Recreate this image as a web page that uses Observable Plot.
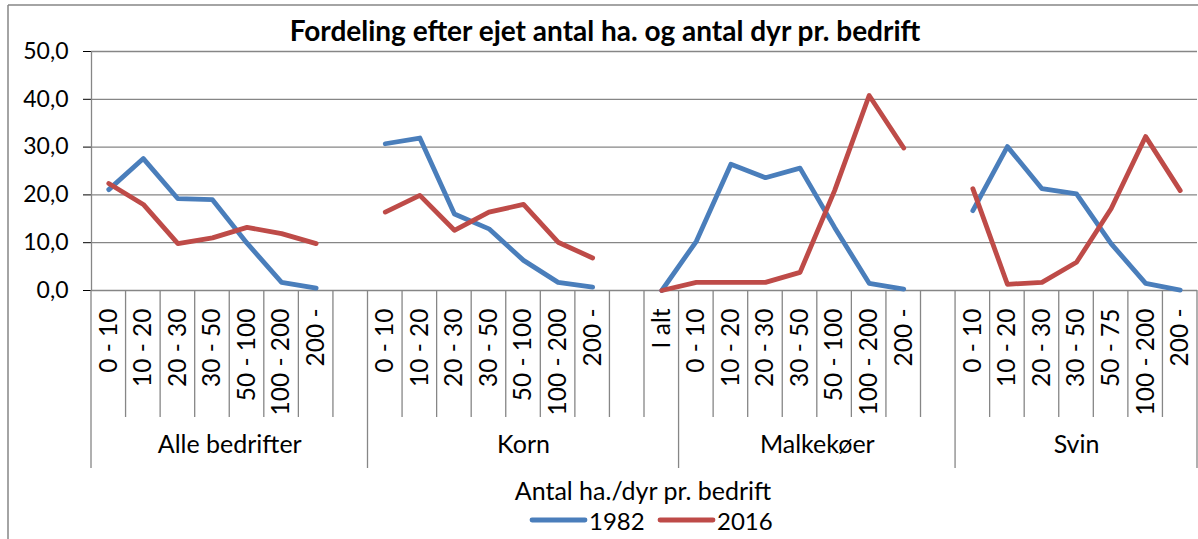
<!DOCTYPE html>
<html><head><meta charset="utf-8">
<script src="https://cdn.jsdelivr.net/npm/d3@7"></script>
<script src="https://cdn.jsdelivr.net/npm/@observablehq/plot@0.6"></script>
<style>html,body{margin:0;padding:0;background:#fff}svg{display:block}</style>
</head><body><div id="chart"></div>
<script>
// ---- data ----
const groups = ["Alle bedrifter", "Korn", "Malkekøer", "Svin"];
const catsAlle = ["0 - 10","10 - 20","20 - 30","30 - 50","50 - 100","100 - 200","200 -",""];
const catsKorn = ["0 - 10","10 - 20","20 - 30","30 - 50","50 - 100","100 - 200","200 -","","I alt"];
const catsMalk = ["0 - 10","10 - 20","20 - 30","30 - 50","50 - 100","100 - 200","200 -",""];
const catsSvin = ["0 - 10","10 - 20","20 - 30","30 - 50","50 - 75","100 - 200","200 -"];
const v1982Alle = [21.1, 27.6, 19.2, 19.0, 9.9, 1.7, 0.5, null];
const v1982Korn = [30.7, 31.9, 16.0, 12.9, 6.3, 1.7, 0.7, null, 0];
const v1982Malk = [10.3, 26.4, 23.6, 25.6, 13.2, 1.5, 0.3, null];
const v1982Svin = [16.7, 30.1, 21.3, 20.2, 9.8, 1.5, 0.1];
const v2016Alle = [22.4, 18.0, 9.8, 11.0, 13.2, 11.9, 9.8, null];
const v2016Korn = [16.4, 19.9, 12.6, 16.4, 18.0, 10.1, 6.8, null, 0];
const v2016Malk = [1.7, 1.7, 1.7, 3.8, 20.9, 40.8, 29.8, null];
const v2016Svin = [21.3, 1.3, 1.7, 5.9, 17.1, 32.2, 20.9];
const yTicks = [0, 10, 20, 30, 40, 50];
const seriesNames = ["1982", "2016"];
const title = "Fordeling efter ejet antal ha. og antal dyr pr. bedrift";
const xTitle = "Antal ha./dyr pr. bedrift";

// ---- build table ----
const catsByGroup = [catsAlle, catsKorn, catsMalk, catsSvin];
const a1982 = [v1982Alle, v1982Korn, v1982Malk, v1982Svin];
const a2016 = [v2016Alle, v2016Korn, v2016Malk, v2016Svin];
const rows = [];
const groupRows = [];
let idx = 0;
catsByGroup.forEach((cats, g) => {
  const start = idx;
  cats.forEach((c, j) => {
    rows.push({i: idx, pos: idx + 0.5, label: c, group: groups[g], v1982: a1982[g][j], v2016: a2016[g][j]});
    idx++;
  });
  groupRows.push({name: groups[g], start, end: idx, mid: (start + idx) / 2});
});
const nSlots = idx;
const groupBounds = [0, ...groupRows.map(d => d.end)];
const slotBounds = d3.range(1, nSlots).filter(b => !groupBounds.includes(b));

const FONT = "Lato, 'Open Sans', sans-serif";
const blue = "#4A7EBB", red = "#BE4B48", grid = "#868686";

const plot = Plot.plot({
  width: 1198, height: 539,
  marginLeft: 91, marginRight: 1, marginTop: 51, marginBottom: 249,
  style: {fontFamily: FONT, fontSize: "23px", color: "#000", background: "#fff", overflow: "visible"},
  x: {type: "linear", domain: [0, nSlots], axis: null},
  y: {domain: [0, 50], ticks: yTicks, tickSize: 8, tickPadding: 15,
      tickFormat: d => d.toFixed(1).replace(".", ","), label: null},
  marks: [
    Plot.ruleY(yTicks, {stroke: grid, strokeWidth: 1.3}),
    Plot.ruleX([0], {stroke: grid, strokeWidth: 1.3}),
    Plot.line(rows, {x: "pos", y: "v1982", stroke: blue, strokeWidth: 4.8, strokeLinejoin: "round", strokeLinecap: "round"}),
    Plot.line(rows, {x: "pos", y: "v2016", stroke: red, strokeWidth: 4.8, strokeLinejoin: "round", strokeLinecap: "round"}),
    Plot.text(rows.filter(d => d.label), {x: "pos", frameAnchor: "bottom", dy: 18, text: "label", rotate: -90, textAnchor: "end", lineAnchor: "middle", fontSize: 24.5, fill: "#000"}),
    Plot.text(groupRows, {x: "mid", frameAnchor: "bottom", dy: 162, text: "name", fontSize: 25, fill: "#000"})
  ]
});
document.getElementById("chart").appendChild(plot);

// axis decorations (category separators), drawn through Plot's x scale
const svg = d3.select(plot);
const xs = plot.scale("x"), ys = plot.scale("y");
const y0 = ys.apply(0);
const deco = svg.append("g").attr("stroke", grid).attr("stroke-width", 1.3);
slotBounds.forEach(b => deco.append("line").attr("x1", xs.apply(b)).attr("x2", xs.apply(b)).attr("y1", y0).attr("y2", y0 + 127));
groupBounds.forEach(b => deco.append("line").attr("x1", xs.apply(b)).attr("x2", xs.apply(b)).attr("y1", y0).attr("y2", y0 + 178));

// chart frame
svg.append("line").attr("x1", 8).attr("x2", 1198).attr("y1", 5).attr("y2", 5).attr("stroke", grid).attr("stroke-width", 1.5);
svg.append("line").attr("x1", 8).attr("x2", 8).attr("y1", 5).attr("y2", 539).attr("stroke", grid).attr("stroke-width", 1.5);

// title
svg.append("text").attr("x", 605).attr("y", 30).attr("text-anchor", "middle").attr("dominant-baseline", "central")
  .attr("font-weight", "bold").attr("font-size", 28).attr("fill", "#000").text(title);
// x axis title
svg.append("text").attr("x", 643).attr("y", 490).attr("text-anchor", "middle").attr("dominant-baseline", "central")
  .attr("font-size", 25).attr("fill", "#000").text(xTitle);
// legend
const leg = svg.append("g");
const legItems = [{name: seriesNames[0], color: blue, x: 532}, {name: seriesNames[1], color: red, x: 660}];
legItems.forEach(it => {
  leg.append("line").attr("x1", it.x).attr("x2", it.x + 53).attr("y1", 520).attr("y2", 520)
    .attr("stroke", it.color).attr("stroke-width", 4.8).attr("stroke-linecap", "round");
  leg.append("text").attr("x", it.x + 57).attr("y", 520).attr("text-anchor", "start").attr("dominant-baseline", "central")
    .attr("font-size", 24).attr("fill", "#000").text(it.name);
});
</script>
</body></html>
